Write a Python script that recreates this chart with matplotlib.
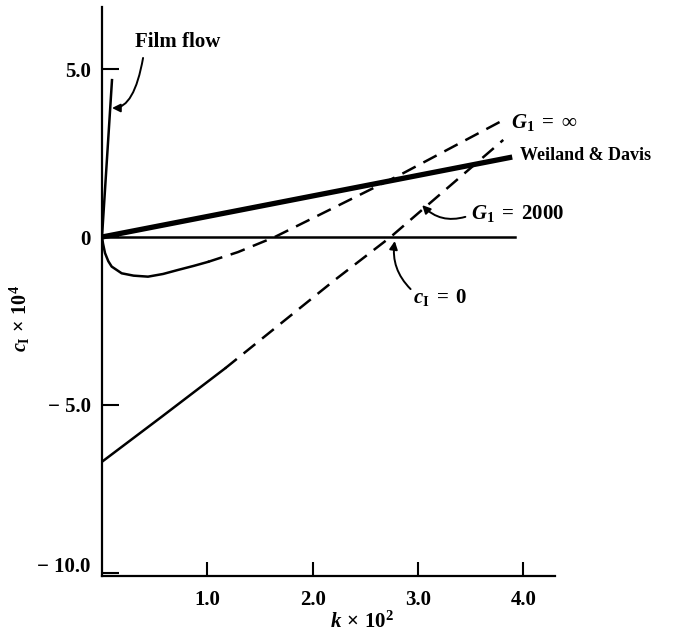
import matplotlib
matplotlib.use("Agg")
import matplotlib.pyplot as plt
from matplotlib.transforms import ScaledTranslation

# values (k x 10^2, c_I x 10^4)
film_k = [0.0, 0.095]
film_c = [0.0, 4.67]

weiland_k = [0.0, 3.895]
weiland_c = [0.0, 2.38]

zero_k = [0.0, 3.92]
zero_c = [0.0, 0.0]

ginf_solid_k = [0.0, 0.01, 0.029, 0.06, 0.092, 0.187, 0.30, 0.437, 0.58, 0.722, 0.87, 1.007]
ginf_solid_c = [0.0, -0.20, -0.48, -0.72, -0.88, -1.08, -1.15, -1.18, -1.10, -0.98, -0.86, -0.74]
ginf_dash_k = [1.007, 1.29, 1.64, 2.83, 3.81]
ginf_dash_c = [-0.74, -0.45, 0.0, 1.85, 3.48]

g2000_solid_k = [0.0, 0.567, 1.169]
g2000_solid_c = [-6.69, -5.35, -3.91]
g2000_dash_k = [1.169, 2.21, 2.74, 3.81]
g2000_dash_c = [-3.91, -1.28, 0.0, 2.89]

yticks = [-10, -5, 0, 5]
ytick_labels = ["\u2212 10.0", "\u2212 5.0", "0", "5.0"]
xticks = [1, 2, 3, 4]
xtick_labels = ["1.0", "2.0", "3.0", "4.0"]

plt.rcParams["font.family"] = ["Liberation Serif", "DejaVu Serif"]
plt.rcParams["font.weight"] = "bold"
plt.rcParams["mathtext.fontset"] = "custom"
plt.rcParams["mathtext.rm"] = "Liberation Serif:bold"
plt.rcParams["mathtext.it"] = "Liberation Serif:italic:bold"
plt.rcParams["mathtext.bf"] = "Liberation Serif:bold"

fig = plt.figure(figsize=(6.79, 6.38), dpi=100)
ax = fig.add_axes([0.1502, 0.0972, 0.667, 0.892])

lw = 1.8
dash = (0, (6, 3.5))
ax.plot(zero_k, zero_c, color="black", lw=lw)
ax.plot(weiland_k, weiland_c, color="black", lw=3.8, solid_capstyle="butt")
ax.plot(film_k, film_c, color="black", lw=lw)
ax.plot(ginf_solid_k, ginf_solid_c, color="black", lw=lw)
ax.plot(ginf_dash_k, ginf_dash_c, color="black", lw=lw, linestyle=dash)
ax.plot(g2000_solid_k, g2000_solid_c, color="black", lw=lw)
ax.plot(g2000_dash_k, g2000_dash_c, color="black", lw=lw, linestyle=dash)

ax.set_xlim(0, 4.30)
ax.set_ylim(-10.09, 6.85)
for s in ["top", "right"]:
    ax.spines[s].set_visible(False)
for s in ["left", "bottom"]:
    ax.spines[s].set_linewidth(1.6)

ax.set_xticks(xticks)
ax.set_xticklabels(xtick_labels)
ax.set_yticks(yticks)
ax.set_yticklabels(ytick_labels)
ax.tick_params(axis="x", direction="in", length=10, width=1.5, pad=10, labelsize=15)
ax.tick_params(axis="y", direction="in", length=12, width=1.5, pad=8, labelsize=15)

# the -10.0 label sits a little above the axis line in the original
lab = ax.get_yticklabels()[0]
lab.set_transform(lab.get_transform() + ScaledTranslation(0, 0.08, fig.dpi_scale_trans))

fig.text(362 / 679, 1 - 622 / 638, r"$k\,\times\,10^2$", ha="center", va="center", fontsize=15)
fig.text(20 / 679, 1 - 318 / 638, r"$c_{\mathrm{I}}\,\times\,10^4$", ha="center", va="center",
         fontsize=14.5, rotation=90)

# labels and arrows
arrow = dict(arrowstyle="-|>", color="black", lw=1.4, mutation_scale=12, shrinkA=0, shrinkB=0)
ax.text(0.72, 5.80, "Film flow", ha="center", va="center", fontsize=15)
ax.annotate("", xy=(0.095, 3.84), xytext=(0.39, 5.33),
            arrowprops=dict(arrow, connectionstyle="angle3,angleA=-100,angleB=0"))

ax.text(3.88, 3.42, r"$G_1\;=\;\infty$", ha="left", va="center", fontsize=15)
ax.text(3.97, 2.44, "Weiland & Davis", ha="left", va="center", fontsize=13)

ax.text(3.50, 0.71, r"$G_1\;=\;2000$", ha="left", va="center", fontsize=15)
ax.annotate("", xy=(3.04, 0.95), xytext=(3.45, 0.60),
            arrowprops=dict(arrow, connectionstyle="arc3,rad=-0.3"))

ax.text(2.95, -1.79, r"$c_{\mathrm{I}}\;=\;0$", ha="left", va="center", fontsize=15)
ax.annotate("", xy=(2.78, -0.12), xytext=(2.93, -1.55),
            arrowprops=dict(arrow, connectionstyle="arc3,rad=-0.25"))

fig.savefig("out.png", dpi=100)
